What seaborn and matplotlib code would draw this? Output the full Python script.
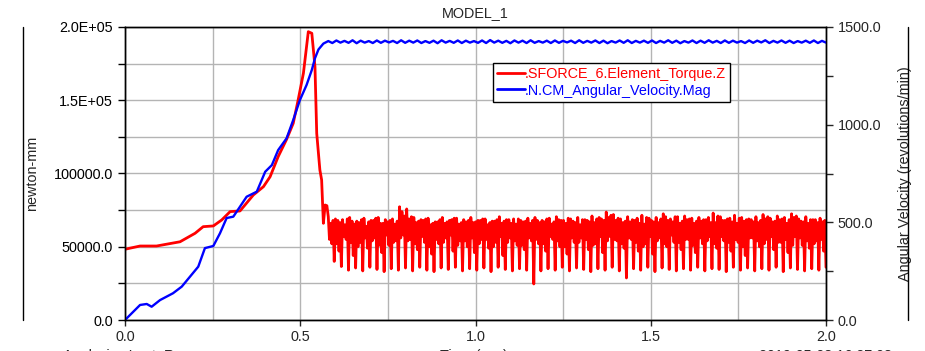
import numpy as np
import pandas as pd
import matplotlib
matplotlib.use("Agg")
import matplotlib.pyplot as plt
from matplotlib.lines import Line2D
from matplotlib.ticker import MultipleLocator, FormatStrFormatter
import seaborn as sns

# Torque (newton-mm), start-up ramp and peak
torque_t_ramp = [0.0, 0.043, 0.09, 0.157, 0.2, 0.223, 0.252, 0.276, 0.3, 0.328,
                 0.366, 0.395, 0.414, 0.437, 0.461, 0.48, 0.494, 0.509, 0.523,
                 0.533, 0.542, 0.547, 0.556, 0.561, 0.566, 0.571, 0.576]
torque_ramp = [48300, 50500, 50500, 53400, 59200, 63700, 64200, 68300, 74000, 74400,
               85300, 91000, 97800, 111500, 123300, 134300, 150200, 168400, 196800,
               195700, 172900, 127400, 102400, 95600, 66000, 78500, 78000]

# Torque oscillation after 0.58 s, one value per cycle for each of 6 phases
osc_hi_a = [70500, 69000, 68500, 70000, 67500, 69500, 68000, 70000, 68500, 69000,
            77300, 75800, 70000, 68500, 69500, 67000, 70000, 68000, 69500, 68500,
            70000, 68000, 69000, 67500, 70500, 68500, 69000, 68000, 69500, 70000,
            68000, 69500, 70500, 68000, 69000, 70000, 68500, 71000, 70000, 73700,
            72000, 69000, 70500, 68000, 71500, 69500, 70000, 72500, 69000, 70500,
            71000, 69500, 70000, 68500, 73000, 70500, 69000, 71500, 70000, 69000,
            70500, 72000, 69500, 71000, 70000, 72500, 69000, 70500, 68500, 69500]
osc_mid = [55000, 52000, 57000, 53000, 50000, 56000, 54000, 51000, 58000, 53000,
           56000, 54000, 52000, 57000, 50000, 55000, 53000, 58000, 51000, 54000,
           56000, 52000, 55000, 50000, 57000, 53000, 54000, 51000, 56000, 55000,
           52000, 57000, 54000, 50000, 56000, 53000, 55000, 51000, 57000, 54000,
           55000, 52000, 56000, 53000, 50000, 57000, 54000, 52000, 58000, 53000,
           55000, 51000, 56000, 54000, 52000, 57000, 53000, 55000, 50000, 56000,
           54000, 52000, 57000, 53000, 55000, 51000, 56000, 54000, 52000, 55000]
osc_hi_b = [66000, 68000, 65000, 67500, 66500, 64000, 68000, 66000, 67000, 65500,
            74000, 69000, 66500, 68000, 65000, 67000, 66000, 68500, 65500, 67000,
            66500, 68000, 65000, 67500, 66000, 68500, 65500, 67000, 66000, 68000,
            67000, 65500, 68500, 66000, 67500, 65000, 68000, 66500, 69000, 70000,
            68000, 66500, 67000, 69500, 65500, 68000, 66500, 70500, 67000, 66000,
            68500, 66000, 67500, 70000, 66500, 68000, 69500, 66000, 67500, 68500,
            66500, 69000, 67000, 68500, 66000, 70000, 67500, 66000, 68500, 67000]
osc_mid2 = [52000, 47000, 55000, 44000, 53000, 49000, 56000, 46000, 51000, 54000,
            58000, 55000, 48000, 53000, 45000, 52000, 56000, 47000, 54000, 50000,
            46000, 55000, 49000, 53000, 44000, 56000, 51000, 48000, 54000, 52000,
            47000, 55000, 50000, 45000, 53000, 56000, 48000, 52000, 46000, 57000,
            54000, 49000, 55000, 47000, 52000, 45000, 56000, 50000, 53000, 48000,
            55000, 46000, 52000, 57000, 49000, 54000, 47000, 53000, 44000, 56000,
            50000, 55000, 48000, 53000, 46000, 57000, 51000, 49000, 54000, 47000]
osc_hi_c = [68000, 66500, 69000, 65500, 68500, 67000, 69500, 66000, 68000, 67500,
            71000, 70500, 67500, 69000, 66000, 68500, 67000, 69500, 66500, 68000,
            67000, 69000, 66500, 68500, 67500, 66000, 69000, 67500, 68000, 66500,
            69000, 67000, 68000, 69500, 66500, 68500, 67000, 69000, 68000, 71500,
            69500, 67500, 68500, 66000, 70000, 67000, 69000, 68000, 70500, 67500,
            69000, 67500, 68500, 66500, 71000, 68000, 67000, 69500, 68500, 67000,
            68000, 70500, 67500, 69000, 68500, 71000, 67000, 68500, 66500, 68000]
osc_low = [40000, 36500, 34000, 35500, 33500, 36000, 34500, 33000, 35000, 34000,
           35500, 33500, 36000, 34000, 33000, 35500, 34500, 36000, 33500, 35000,
           34000, 35500, 33000, 36000, 34500, 33500, 35000, 34000, 24600, 33500,
           35000, 34000, 36000, 33500, 35500, 34500, 33000, 35000, 34000, 36000,
           33500, 28700, 35000, 34000, 36000, 33000, 35500, 34500, 33500, 35000,
           34000, 36000, 33500, 35000, 34500, 33000, 36000, 34000, 35500, 33500,
           35000, 34000, 36000, 33000, 35500, 34500, 33500, 35000, 34000, 36000]

# Angular velocity (rpm), ramp and ripple on the plateau
speed_t_ramp = [0.0, 0.043, 0.062, 0.076, 0.1, 0.137, 0.162, 0.209, 0.228, 0.252,
                0.271, 0.29, 0.309, 0.347, 0.376, 0.4, 0.419, 0.437, 0.461, 0.48,
                0.499, 0.518, 0.533, 0.542, 0.552, 0.566]
speed_ramp = [0, 77, 82, 68, 102, 137, 171, 273, 368, 379,
              444, 522, 529, 631, 657, 759, 793, 870, 930, 1024,
              1126, 1203, 1280, 1340, 1385, 1415]
speed_hi = [1428, 1431, 1429, 1432, 1430, 1428, 1431, 1430, 1429, 1432,
            1430, 1431, 1428, 1430, 1432, 1429, 1431, 1430, 1428, 1431,
            1433, 1430, 1429, 1431, 1430, 1432, 1428, 1430, 1431, 1429,
            1430, 1432, 1429, 1431, 1430, 1428, 1431, 1432, 1429, 1430,
            1431, 1429, 1432, 1430, 1428, 1431, 1430, 1432, 1429, 1431,
            1430, 1428, 1431, 1430, 1432, 1429, 1431, 1430, 1428, 1430,
            1431, 1429]
speed_lo = [1418, 1420, 1419, 1417, 1420, 1418, 1419, 1421, 1418, 1419,
            1420, 1418, 1419, 1417, 1420, 1419, 1418, 1420, 1419, 1418,
            1420, 1419, 1417, 1420, 1418, 1419, 1420, 1418, 1419, 1421,
            1418, 1419, 1420, 1418, 1417, 1420, 1419, 1418, 1420, 1419,
            1418, 1420, 1419, 1417, 1420, 1418, 1419, 1420, 1418, 1419,
            1420, 1418, 1419, 1421, 1418, 1420, 1419, 1418, 1420, 1419,
            1418, 1420]

left_ticks = [0, 50000, 100000, 150000, 200000]
left_labels = ["0.0", "50000.0", "100000.0", "1.5E+05", "2.0E+05"]

# assemble series
osc = np.column_stack([osc_hi_a, osc_mid, osc_hi_b, osc_mid2, osc_hi_c, osc_low]).ravel()
torque = pd.DataFrame({
    "t": np.concatenate([torque_t_ramp, np.linspace(0.58, 2.0, len(osc))]),
    "v": np.concatenate([torque_ramp, osc]),
})
plateau = np.column_stack([speed_hi, speed_lo]).ravel()
speed = pd.DataFrame({
    "t": np.concatenate([speed_t_ramp, np.linspace(0.58, 2.0, len(plateau))]),
    "v": np.concatenate([speed_ramp, plateau]),
})

sns.set_style("ticks")
plt.rcParams["font.family"] = ["Liberation Sans", "DejaVu Sans"]
plt.rcParams["font.size"] = 10.4

fig, ax = plt.subplots(figsize=(9.25, 3.51), dpi=100)
fig.subplots_adjust(left=125/925, right=826/925, top=1-27/351, bottom=1-320/351)
ax2 = ax.twinx()

sns.lineplot(data=torque, x="t", y="v", ax=ax, color="#ff0000", lw=2.0,
             estimator=None, sort=False, legend=False)
sns.lineplot(data=speed, x="t", y="v", ax=ax2, color="#0000ff", lw=1.7,
             estimator=None, sort=False, legend=False)

ax.set_xlim(0, 2.0)
ax.set_ylim(0, 200000)
ax2.set_ylim(0, 1500)

ax.xaxis.set_major_locator(MultipleLocator(0.5))
ax.xaxis.set_minor_locator(MultipleLocator(0.25))
ax.xaxis.set_major_formatter(FormatStrFormatter("%.1f"))
ax.set_yticks(left_ticks)
ax.set_yticklabels(left_labels)
ax.yaxis.set_minor_locator(MultipleLocator(25000))
ax2.yaxis.set_major_locator(MultipleLocator(500))
ax2.yaxis.set_minor_locator(MultipleLocator(250))
ax2.yaxis.set_major_formatter(FormatStrFormatter("%.1f"))

ax.grid(which="both", color="#b4b4b4", lw=1)
ax.set_axisbelow(True)
ax.tick_params(axis="y", which="both", direction="out", length=5, width=1, colors="black")
ax.tick_params(axis="x", which="major", direction="out", length=4, width=1)
ax.tick_params(axis="x", which="minor", length=0)
ax2.tick_params(axis="y", which="both", direction="out", length=5, width=1)
for a in (ax, ax2):
    for s in a.spines.values():
        s.set_visible(True)
        s.set_color("black")
        s.set_linewidth(1)

ax.set_xlabel("")
ax.set_ylabel("newton-mm")
ax.yaxis.set_label_coords((39-125)/701, 0.5)
ax2.set_ylabel("Angular Velocity (revolutions/min)")
ax2.yaxis.set_label_coords((898-125)/701, 0.5)
ax.set_title("MODEL_1", pad=7, fontsize=10.4)

handles = [Line2D([], [], color="#ff0000", lw=2.0), Line2D([], [], color="#0000ff", lw=2.0)]
leg = ax2.legend(handles, [".SFORCE_6.Element_Torque.Z", ".N.CM_Angular_Velocity.Mag"],
                 loc="upper left", bbox_to_anchor=((493-125)/701, (320-63)/293),
                 borderaxespad=0, fancybox=False, framealpha=1, edgecolor="black",
                 handlelength=1.9, handletextpad=0.0, borderpad=0.3,
                 labelspacing=0.15, fontsize=10.4)
leg.get_frame().set_linewidth(1)
for txt, c in zip(leg.get_texts(), ["#ff0000", "#0000ff"]):
    txt.set_color(c)

# side rules and footer
fig.add_artist(Line2D([23/925, 23/925], [1-27/351, 1-320/351], color="black", lw=1))
fig.add_artist(Line2D([908/925, 908/925], [1-27/351, 1-320/351], color="black", lw=1))
fy = (351-349)/351
fig.text(63/925, fy, "Analysis:  Last_Run", va="top", ha="left")
fig.text(474/925, fy, "Time (sec)", va="top", ha="center")
fig.text(759/925, fy, "2019-05-03 16:27:03", va="top", ha="left")

fig.savefig("out.png", dpi=100)
